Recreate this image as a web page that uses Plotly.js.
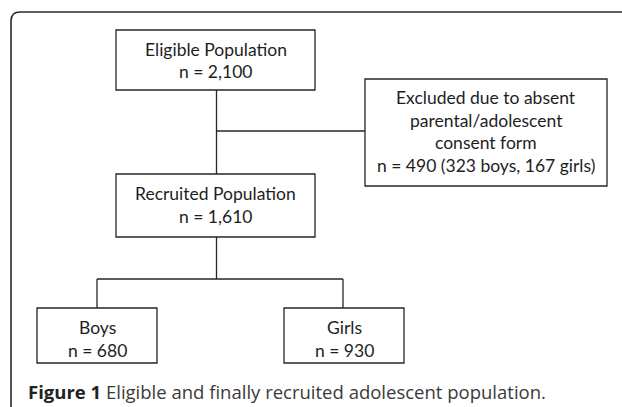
<!DOCTYPE html>
<html>
<head>
<meta charset="utf-8">
<script src="https://cdn.plot.ly/plotly-3.0.1.min.js"></script>
<style>html,body{margin:0;padding:0;background:#fff;}#chart{width:622px;height:407px;}</style>
</head>
<body>
<div id="chart"></div>
<script>
// ---- data ----
const nodeNames = ["Eligible Population", "Excluded due to absent", "Recruited Population", "Boys", "Girls"];
const nodeExtraLines = [[], ["parental/adolescent", "consent form"], [], [], []];
const nodeCounts = [2100, 490, 1610, 680, 930];
const excludedBoys = 323;
const excludedGirls = 167;
const captionLabel = "Figure 1";
const captionText = "Eligible and finally recruited adolescent population.";

// ---- layout geometry (pixels) ----
const boxes = [
  {x0: 116, x1: 315, y0: 30, y1: 90, cy: 60.5},
  {x0: 365, x1: 607, y0: 79, y1: 186, cy: 131.5},
  {x0: 116, x1: 315, y0: 174, y1: 237, cy: 205},
  {x0: 37, x1: 157, y0: 308, y1: 363, cy: 339},
  {x0: 284, x1: 404, y0: 308, y1: 363, cy: 339}
];
const lineGap = 22.7;
const fmt = v => v.toLocaleString('en-US');

const shapes = [];
const annotations = [];
const boxLine = {color: '#262626', width: 1.3};

// outer frame (open on right & bottom)
shapes.push({type: 'path', xref: 'x', yref: 'y',
  path: 'M 11 407 L 11 21 Q 11 12 20 12 L 622 12',
  line: {color: '#2b2b2b', width: 1.6}});

boxes.forEach((b, i) => {
  shapes.push({type: 'rect', xref: 'x', yref: 'y', x0: b.x0, x1: b.x1, y0: b.y0, y1: b.y1,
    line: boxLine, fillcolor: 'rgba(0,0,0,0)'});
  let lines = [nodeNames[i]].concat(nodeExtraLines[i]);
  let countLine = 'n = ' + fmt(nodeCounts[i]);
  if (i === 1) countLine += ' (' + excludedBoys + ' boys, ' + excludedGirls + ' girls)';
  lines.push(countLine);
  const n = lines.length;
  lines.forEach((t, k) => {
    annotations.push({x: (b.x0 + b.x1) / 2, y: b.cy + (k - (n - 1) / 2) * lineGap,
      xref: 'x', yref: 'y', text: t, showarrow: false, xanchor: 'center', yanchor: 'middle',
      font: {family: 'Lato, "Open Sans", sans-serif', size: 17.5, color: '#1e1e1e'}});
  });
});

// connectors
const cx = (boxes[0].x0 + boxes[0].x1) / 2 + 1;
const midY = 131;
const branchY = 279;
const boysX = (boxes[3].x0 + boxes[3].x1) / 2;
const girlsX = (boxes[4].x0 + boxes[4].x1) / 2 - 1;
const conn = [
  [cx, boxes[0].y1, cx, boxes[2].y0],
  [cx, midY, boxes[1].x0, midY],
  [cx, boxes[2].y1, cx, branchY],
  [boysX, branchY, girlsX, branchY],
  [boysX, branchY, boysX, boxes[3].y0],
  [girlsX, branchY, girlsX, boxes[4].y0]
];
conn.forEach(c => shapes.push({type: 'line', xref: 'x', yref: 'y', x0: c[0], y0: c[1], x1: c[2], y1: c[3], line: boxLine}));

// caption
annotations.push({x: 26, y: 391, xref: 'x', yref: 'y', xanchor: 'left', yanchor: 'middle', showarrow: false,
  text: '<b style="color:#222">' + captionLabel + '</b> ' + captionText,
  font: {family: '"Open Sans", sans-serif', size: 18.5, color: '#3a3a3a'}});

Plotly.newPlot('chart', [], {
  width: 622, height: 407,
  margin: {l: 0, r: 0, t: 0, b: 0},
  paper_bgcolor: '#ffffff', plot_bgcolor: '#ffffff',
  xaxis: {range: [0, 622], visible: false, fixedrange: true},
  yaxis: {range: [407, 0], visible: false, fixedrange: true},
  shapes: shapes, annotations: annotations, showlegend: false
}, {staticPlot: true});
</script>
</body>
</html>
